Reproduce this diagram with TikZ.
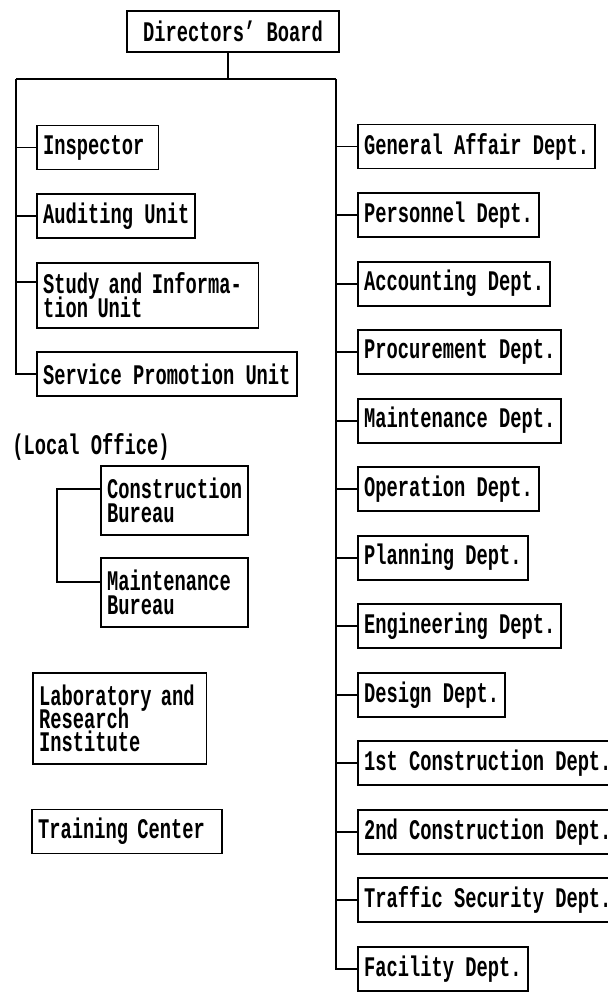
\documentclass[tikz,border=0pt]{standalone}
\usepackage{fontspec}
\newfontfamily\chartfont{Liberation Mono}[FakeStretch=0.66]
\usetikzlibrary{positioning}

\begin{document}
\begin{tikzpicture}[
    x=0.75pt, y=-0.75pt,
    node distance=17pt,
    font={\chartfont\bfseries\fontsize{21.3}{17.5}\selectfont\lineskiplimit=-100pt},
    unit_box/.style={draw=black, line width=1.4pt, fill=white, align=left, anchor=west, inner xsep=4.6pt, inner ysep=3pt, minimum height=33pt},
    dept_box/.style={unit_box},
    link/.style={draw=black, line width=1.4pt}
]
\useasboundingbox (0,0) rectangle (607,992);

% TOP
\node[unit_box, anchor=center, align=center, minimum width=159pt, minimum height=30.85pt] (board) at (233,31.5) {Directors’ Board};
\coordinate (stem) at (228,79);
\coordinate (bus_l) at (16,79);
\coordinate (bus_r) at (336,79);

% STAFF UNITS
\node[unit_box, text width=82pt] (insp) at (36,147.5) {Inspector};
\node[unit_box, below=17pt of insp.south west, anchor=north west] (audit) {Auditing Unit};
\node[unit_box, below=17pt of audit.south west, anchor=north west, text width=157pt, minimum height=48.85pt] (study) {Study and Informa-\\tion Unit};
\node[unit_box, below=17pt of study.south west, anchor=north west] (serv) {Service Promotion Unit};

% LOCAL OFFICE
\node[anchor=west, inner sep=0pt] (loc_lbl) at (12,447) {(Local Office)};
\node[unit_box, text width=101pt, minimum height=51.85pt] (cons_bur) at (100,500.5) {Construction\\Bureau};
\node[unit_box, below=15.75pt of cons_bur.south west, anchor=north west, text width=101pt, minimum height=51.85pt] (mnt_bur) {Maintenance\\Bureau};
\coordinate (lo_bar) at (57,535);

% OTHER BODIES
\node[unit_box, text width=121pt, minimum height=68.35pt] (lab) at (32,718.5) {Laboratory and\\Research\\Institute};
\node[unit_box, text width=133.4pt] (train) at (31,831.5) {Training Center};

% DEPARTMENTS
\node[dept_box] (gen) at (357,146.5) {General Affair Dept.};
\node[dept_box, below=17pt of gen.south west, anchor=north west] (pers) {Personnel Dept.};
\node[dept_box, below=17pt of pers.south west, anchor=north west] (acct) {Accounting Dept.};
\node[dept_box, below=17pt of acct.south west, anchor=north west] (proc) {Procurement Dept.};
\node[dept_box, below=17pt of proc.south west, anchor=north west] (mnt) {Maintenance Dept.};
\node[dept_box, below=17pt of mnt.south west, anchor=north west] (oper) {Operation Dept.};
\node[dept_box, below=17pt of oper.south west, anchor=north west] (plan) {Planning Dept.};
\node[dept_box, below=17pt of plan.south west, anchor=north west] (eng) {Engineering Dept.};
\node[dept_box, below=17pt of eng.south west, anchor=north west] (design) {Design Dept.};
\node[dept_box, below=17pt of design.south west, anchor=north west] (con1) {1st Construction Dept.};
\node[dept_box, below=17pt of con1.south west, anchor=north west] (con2) {2nd Construction Dept.};
\node[dept_box, below=17pt of con2.south west, anchor=north west] (traffic) {Traffic Security Dept.};
\node[dept_box, below=17pt of traffic.south west, anchor=north west] (fac) {Facility Dept.};

% LINES
\draw[link] (board.south -| stem) -- (stem);
\draw[link] (bus_l) -- (bus_r);
\draw[link] (bus_l) |- (serv.west);
\draw[link] (bus_l |- insp.west) -- (insp.west);
\draw[link] (bus_l |- audit.west) -- (audit.west);
\draw[link] ([yshift=9.75pt]study.west) -| (bus_l);

\draw[link] ([yshift=8.6pt]cons_bur.west) -| (lo_bar) |- ([yshift=7.9pt]mnt_bur.west);

\draw[link] (bus_r) |- (fac.west);
\draw[link] (bus_r |- gen.west) -- (gen.west);
\draw[link] (bus_r |- pers.west) -- (pers.west);
\draw[link] (bus_r |- acct.west) -- (acct.west);
\draw[link] (bus_r |- proc.west) -- (proc.west);
\draw[link] (bus_r |- mnt.west) -- (mnt.west);
\draw[link] (bus_r |- oper.west) -- (oper.west);
\draw[link] (bus_r |- plan.west) -- (plan.west);
\draw[link] (bus_r |- eng.west) -- (eng.west);
\draw[link] (bus_r |- design.west) -- (design.west);
\draw[link] (bus_r |- con1.west) -- (con1.west);
\draw[link] (bus_r |- con2.west) -- (con2.west);
\draw[link] (bus_r |- traffic.west) -- (traffic.west);

\end{tikzpicture}
\end{document}
